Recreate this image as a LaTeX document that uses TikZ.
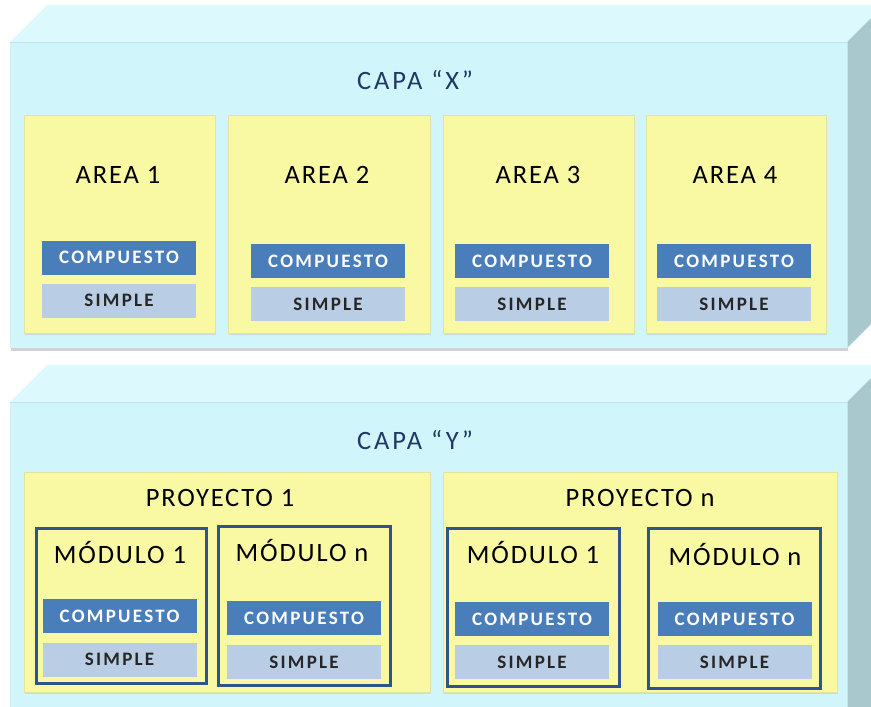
\documentclass[tikz,border=0pt]{standalone}
\usepackage{fontspec}
\setmainfont{Carlito}
\newfontfamily\capafont[LetterSpace=11]{Carlito}
\newfontfamily\titfont[LetterSpace=7]{Carlito}
\newfontfamily\cajafont[LetterSpace=12]{Carlito}
\usepackage{tikz}
\usetikzlibrary{shadows}
\definecolor{capafrente}{HTML}{D0F6FC}
\definecolor{capatecho}{HTML}{DCFAFD}
\definecolor{capalado}{HTML}{A8C8CD}
\definecolor{capaborde}{HTML}{BFE6EC}
\definecolor{capatexto}{HTML}{1F3864}
\definecolor{zona}{HTML}{F9F9A3}
\definecolor{zonaborde}{HTML}{E2E2A6}
\definecolor{compazul}{HTML}{4A7EBB}
\definecolor{simpleazul}{HTML}{B9CDE5}
\definecolor{modborde}{HTML}{2E548C}
\tikzset{
  capa/.style={font=\capafont\fontsize{26.5}{28}\selectfont, text=capatexto, inner sep=0pt},
  nombre/.style={font=\titfont\fontsize{26.5}{28}\selectfont, text=black, inner sep=0pt},
  zonabox/.style={draw=zonaborde, fill=zona, inner sep=0pt,
    drop shadow={shadow xshift=1pt, shadow yshift=-1.5pt, opacity=0.2}},
  modulobox/.style={draw=modborde, line width=3pt, fill=zona, inner sep=0pt},
  caja/.style={inner sep=0pt, minimum width=154pt, minimum height=34pt,
    font=\cajafont\bfseries\fontsize{19}{21}\selectfont},
  compuesto/.style={caja, fill=compazul, text=white},
  simple/.style={caja, fill=simpleazul, text=black!85}
}

\begin{document}
\begin{tikzpicture}[x=1pt,y=-1pt]
\useasboundingbox (0,0) rectangle (871,707);
\clip (0,0) rectangle (871,707);
% capa X
\fill[capafrente, drop shadow={shadow xshift=1pt, shadow yshift=-3pt, opacity=0.35}] (10,42) rectangle (847,348);
\fill[capatecho] (10,42) -- (47,5) -- (884,5) -- (847,42) -- cycle;
\fill[capalado] (847,42) -- (884,5) -- (884,311) -- (847,348) -- cycle;
\draw[capaborde] (10,42) -- (847,42) -- (847,348);
\node[capa] (capax) at (415,80) {CAPA “X”};

\node[zonabox, minimum width=191pt, minimum height=218pt] (area1) at (119.5,224) {};
\node[zonabox, minimum width=202pt, minimum height=218pt] (area2) at (329,224) {};
\node[zonabox, minimum width=191pt, minimum height=218pt] (area3) at (538.5,224) {};
\node[zonabox, minimum width=180pt, minimum height=218pt] (area4) at (736,224) {};
\node[nombre] (area1t) at (118,175) {AREA 1};
\node[nombre] (area2t) at (327,175) {AREA 2};
\node[nombre] (area3t) at (538,175) {AREA 3};
\node[nombre] (area4t) at (735,175) {AREA 4};
\node[compuesto] (area1c) at (119,257.5) {COMPUESTO};
\node[simple] (area1s) at (119,300.5) {SIMPLE};
\node[compuesto] (area2c) at (328,261) {COMPUESTO};
\node[simple] (area2s) at (328,304) {SIMPLE};
\node[compuesto] (area3c) at (532,261) {COMPUESTO};
\node[simple] (area3s) at (532,304) {SIMPLE};
\node[compuesto] (area4c) at (734,261) {COMPUESTO};
\node[simple] (area4s) at (734,304) {SIMPLE};

% capa Y
\fill[capafrente] (10,402) rectangle (847,740);
\fill[capatecho] (10,402) -- (47,365) -- (884,365) -- (847,402) -- cycle;
\fill[capalado] (847,402) -- (884,365) -- (884,703) -- (847,740) -- cycle;
\draw[capaborde] (10,402) -- (847,402) -- (847,740);
\node[capa] (capay) at (415,440) {CAPA “Y”};

\node[zonabox, minimum width=406pt, minimum height=220pt] (proy1) at (227,582) {};
\node[zonabox, minimum width=394pt, minimum height=220pt] (proyn) at (640,582) {};
\node[nombre] (proy1t) at (220,498) {PROYECTO 1};
\node[nombre] (proynt) at (640,498) {PROYECTO n};

\node[modulobox, minimum width=170pt, minimum height=155pt] (mod11) at (121.5,606) {};
\node[modulobox, minimum width=172pt, minimum height=159pt] (mod1n) at (304.5,606) {};
\node[modulobox, minimum width=172pt, minimum height=158pt] (modn1) at (533.5,607.5) {};
\node[modulobox, minimum width=172pt, minimum height=160pt] (modnn) at (734.5,608.5) {};
\node[nombre] (mod11t) at (120,553) {MÓDULO 1};
\node[nombre] (mod1nt) at (302,551) {MÓDULO n};
\node[nombre] (modn1t) at (533,553) {MÓDULO 1};
\node[nombre] (modnnt) at (735,555) {MÓDULO n};
\node[compuesto] (mod11c) at (119.5,616) {COMPUESTO};
\node[simple] (mod11s) at (119.5,659.5) {SIMPLE};
\node[compuesto] (mod1nc) at (304,618) {COMPUESTO};
\node[simple] (mod1ns) at (304,662) {SIMPLE};
\node[compuesto] (modn1c) at (532,619) {COMPUESTO};
\node[simple] (modn1s) at (532,662) {SIMPLE};
\node[compuesto] (modnnc) at (734.5,619) {COMPUESTO};
\node[simple] (modnns) at (734.5,662) {SIMPLE};
\end{tikzpicture}
\end{document}
